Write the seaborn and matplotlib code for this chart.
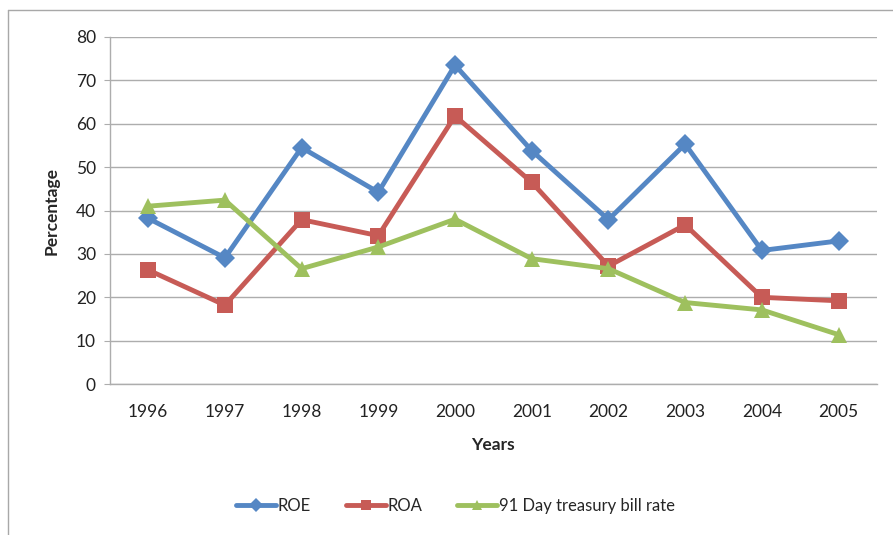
import numpy as np
import pandas as pd
import matplotlib
matplotlib.use("Agg")
import matplotlib.pyplot as plt
import seaborn as sns

# data
years = ["1996", "1997", "1998", "1999", "2000", "2001", "2002", "2003", "2004", "2005"]
roe = [38.2, 29.1, 54.5, 44.2, 73.5, 53.8, 37.9, 55.3, 30.8, 33.0]
roa = [26.3, 18.2, 37.9, 34.2, 61.8, 46.5, 27.2, 36.7, 20.0, 19.2]
tbill = [41.0, 42.4, 26.6, 31.6, 38.0, 28.9, 26.6, 18.8, 17.1, 11.4]

series_names = ["ROE", "ROA", "91 Day treasury bill rate"]
colors = ["#5587C4", "#C75B56", "#9EC05E"]
markers = ["D", "s", "^"]
msizes = [10, 12, 12]

df = pd.DataFrame({"Years": years * 3,
                   "value": roe + roa + tbill,
                   "series": np.repeat(series_names, len(years))})

sns.set_style("white")
plt.rcParams["font.family"] = ["Lato", "DejaVu Sans"]

fig = plt.figure(figsize=(8.93, 5.35), dpi=100)
ax = fig.add_axes([0.123, 0.282, 0.859, 0.649])

sns.lineplot(data=df, x="Years", y="value", hue="series", style="series",
             palette=dict(zip(series_names, colors)),
             markers=dict(zip(series_names, markers)), dashes=False,
             linewidth=3.5, markeredgewidth=0, sort=False, ax=ax,
             legend=False)
# marker sizes differ per series
for line, ms in zip(ax.get_lines(), msizes):
    line.set_markersize(ms)

ax.set_xlim(-0.5, len(years) - 0.5)
ax.set_ylim(0, 80)
ax.set_yticks(range(0, 81, 10))
ax.yaxis.grid(True, color="#ADADAD", linewidth=1)
ax.set_axisbelow(True)
for side in ["top", "right"]:
    ax.spines[side].set_visible(False)
for side in ["left", "bottom"]:
    ax.spines[side].set_color("#ADADAD")
    ax.spines[side].set_linewidth(1)
ax.tick_params(axis="y", left=True, length=4, color="#ADADAD", labelsize=12.5,
               pad=6, labelcolor="#222222")
ax.tick_params(axis="x", bottom=False, labelsize=12.5, pad=11, labelcolor="#222222")

ax.set_xlabel("Years", fontsize=12.5, fontweight="bold", labelpad=12)
ax.set_ylabel("Percentage", fontsize=12.5, fontweight="bold", labelpad=12)

handles = [plt.Line2D([], [], color=c, marker=m, linewidth=3.5, markersize=7,
                      markeredgewidth=0) for c, m in zip(colors, markers)]
fig.legend(handles, series_names, loc="center", bbox_to_anchor=(0.51, 0.055),
           ncol=3, frameon=False, fontsize=12, handlelength=2.4,
           handletextpad=0.1, columnspacing=2.1)

# outer chart border (left and top edges visible in the crop)
fig.add_artist(plt.Line2D([0.009, 0.009], [0.0, 0.981], transform=fig.transFigure,
                          color="#A8A8A8", linewidth=1))
fig.add_artist(plt.Line2D([0.009, 1.0], [0.981, 0.981], transform=fig.transFigure,
                          color="#A8A8A8", linewidth=1))

fig.savefig("out.png", dpi=100)
